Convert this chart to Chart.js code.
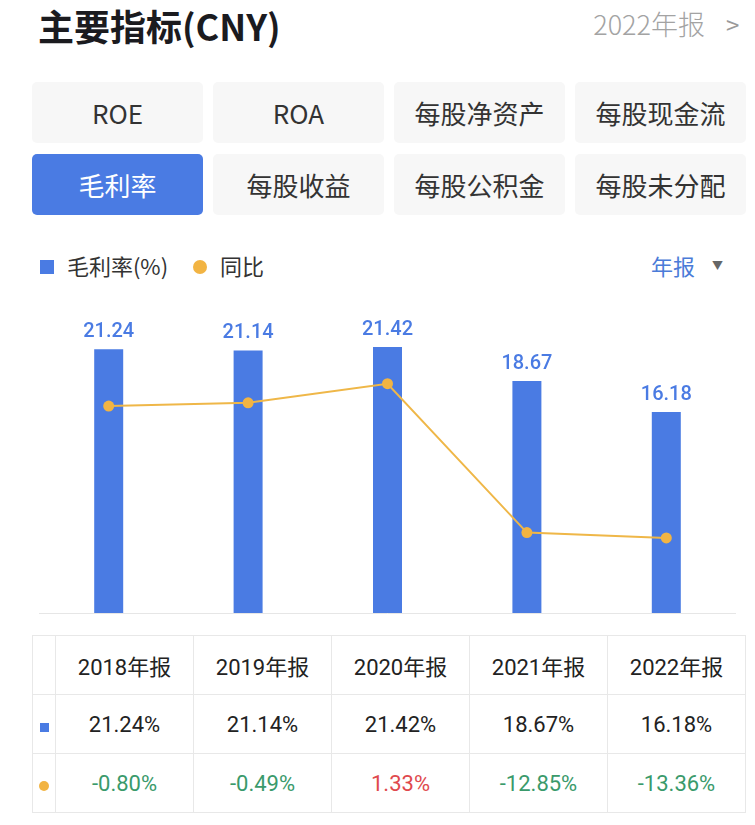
<!DOCTYPE html>
<html>
<head>
<meta charset="utf-8">
<script src="https://cdn.jsdelivr.net/npm/chart.js@4"></script>
<style>
  body {
    margin: 0;
    width: 755px;
    height: 825px;
    background: #fff;
    font-family: "Noto Sans CJK SC", Roboto, sans-serif;
    position: relative;
    overflow: hidden;
  }
  .title {
    position: absolute;
    left: 38px;
    top: 0px;
    font-size: 36px;
    font-weight: 700;
    color: #1b1b1f;
    line-height: 50px;
  }
  .period {
    position: absolute;
    right: 50px;
    top: 6px;
    font-size: 27px;
    font-weight: 300;
    color: #a3a3a3;
    line-height: 36px;
  }
  .period_arrow {
    position: absolute;
    left: 726px;
    top: 6px;
    font-size: 24px;
    color: #9a9a9a;
    line-height: 36px;
  }
  .tab {
    position: absolute;
    width: 171px;
    height: 61px;
    border-radius: 5px;
    background: #f7f7f7;
    color: #333;
    font-size: 26px;
    line-height: 61px;
    text-align: center;
  }
  .tab.active {
    background: #4a7be3;
    color: #fff;
  }
  .legend {
    position: absolute;
    top: 250px;
    height: 30px;
    line-height: 30px;
    font-size: 22px;
    color: #333;
  }
  .chart_box {
    position: absolute;
    left: 0;
    top: 287px;
    width: 755px;
    height: 335px;
  }
  table {
    position: absolute;
    left: 32px;
    top: 635px;
    border-collapse: collapse;
    font-family: Roboto, "Noto Sans CJK SC", sans-serif;
    font-size: 22px;
    color: #222;
  }
  td {
    border: 1px solid #e8e8e8;
    text-align: center;
    height: 58px;
    padding: 0;
  }
  td.first {
    width: 22px;
  }
  td.col {
    width: 137px;
  }
  .up { color: #e0494d; }
  .down { color: #3a9a6b; }
</style>
</head>
<body>
<div class="title">主要指标(CNY)</div>
<div class="period">2022年报</div>
<div class="period_arrow">&gt;</div>
<div id="tabs"></div>

<div class="legend" style="left:40px;">
  <span style="display:inline-block;width:14px;height:14px;background:#4a7be3;vertical-align:middle;margin-top:-4px;"></span>
  <span style="margin-left:8px;">毛利率(%)</span>
</div>
<div class="legend" style="left:193px;">
  <span style="display:inline-block;width:14px;height:14px;border-radius:7px;background:#f2b443;vertical-align:middle;margin-top:-4px;"></span>
  <span style="margin-left:8px;">同比</span>
</div>
<div class="legend" style="left:651px;color:#4a7bd8;">年报</div>
<div class="legend" style="left:712px;color:#666;font-size:11px;">▼</div>

<div class="chart_box"><canvas id="myChart"></canvas></div>

<table id="table"></table>

<script>
const years = ['2018年报', '2019年报', '2020年报', '2021年报', '2022年报']
const marginValues = [21.24, 21.14, 21.42, 18.67, 16.18]
const yoyValues = [-0.80, -0.49, 1.33, -12.85, -13.36]
const tabLabels = ['ROE', 'ROA', '每股净资产', '每股现金流', '毛利率', '每股收益', '每股公积金', '每股未分配']
const activeTab = '毛利率'

// tabs
const tabs = document.getElementById("tabs")
tabLabels.forEach((label, i) => {
  const tab = document.createElement("div")
  tab.className = label === activeTab ? "tab active" : "tab"
  tab.style.left = (32 + (i % 4) * 181) + "px"
  tab.style.top = (82 + Math.floor(i / 4) * 72) + "px"
  tab.textContent = label
  tabs.appendChild(tab)
})

// table under the chart
const table = document.getElementById("table")
let html = '<tr><td class="first"></td>'
years.forEach(y => { html += `<td class="col">${y}</td>` })
html += '</tr><tr><td class="first"><span style="display:inline-block;width:9px;height:9px;background:#4a7be3;"></span></td>'
marginValues.forEach(v => { html += `<td class="col">${v.toFixed(2)}%</td>` })
html += '</tr><tr><td class="first"><span style="display:inline-block;width:10px;height:10px;border-radius:5px;background:#f2b443;"></span></td>'
yoyValues.forEach(v => {
  const cls = v >= 0 ? "up" : "down"
  html += `<td class="col ${cls}">${v.toFixed(2)}%</td>`
})
html += '</tr>'
table.innerHTML = html

// bar value labels + baseline
const valueLabels = {
  id: 'valueLabels',
  afterDatasetsDraw(chart) {
    const ctx = chart.ctx
    const yScale = chart.scales.y
    const area = chart.chartArea
    const y0 = yScale.getPixelForValue(0)
    ctx.save()
    ctx.strokeStyle = '#e6e6e6'
    ctx.lineWidth = 1
    ctx.beginPath()
    ctx.moveTo(area.left, y0 + 0.5)
    ctx.lineTo(area.right, y0 + 0.5)
    ctx.stroke()
    const meta = chart.getDatasetMeta(0)
    ctx.fillStyle = '#4a7be3'
    ctx.font = '500 20px Roboto'
    ctx.textAlign = 'center'
    ctx.textBaseline = 'bottom'
    meta.data.forEach((bar, i) => {
      ctx.fillText(marginValues[i].toFixed(2), bar.x, bar.y - 7)
    })
    ctx.restore()
  }
}

const ctx = document.getElementById('myChart').getContext('2d')
const myChart = new Chart(ctx, {
  data: {
    labels: years,
    datasets: [{
      type: 'bar',
      label: '毛利率(%)',
      data: marginValues,
      backgroundColor: '#4a7be3',
      barPercentage: 0.208,
      categoryPercentage: 1,
      yAxisID: 'y',
      order: 1
    }, {
      type: 'line',
      label: '同比',
      data: yoyValues,
      borderColor: '#efb748',
      borderWidth: 2,
      pointRadius: 5.5,
      pointBackgroundColor: '#f2b443',
      pointBorderWidth: 0,
      tension: 0,
      yAxisID: 'y1',
      order: 0
    }]
  },
  options: {
    responsive: true,
    maintainAspectRatio: false,
    animation: false,
    layout: {
      padding: { left: 39, right: 19, top: 0, bottom: 9 }
    },
    scales: {
      x: { display: false },
      y: { display: false, min: 0, max: 25.8 },
      y1: { display: false, min: -20.51, max: 10.02 }
    },
    plugins: {
      legend: { display: false },
      tooltip: { enabled: false }
    }
  },
  plugins: [valueLabels]
})
</script>
</body>
</html>
